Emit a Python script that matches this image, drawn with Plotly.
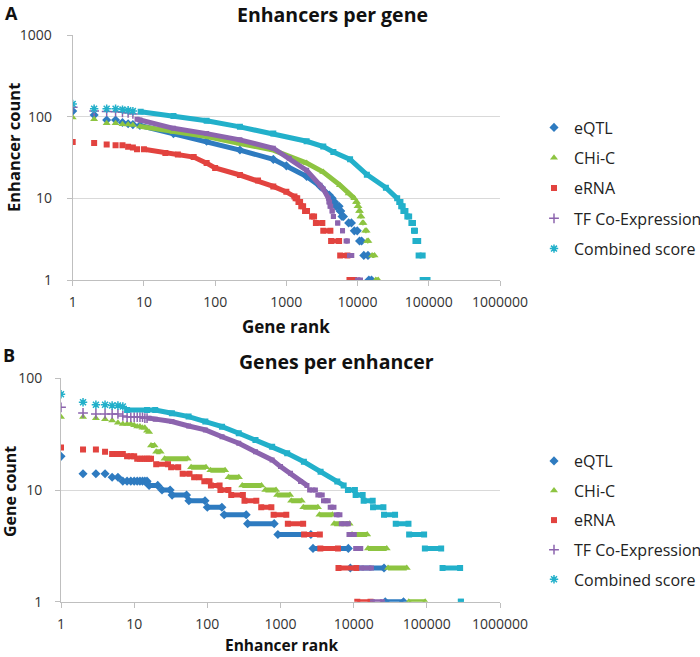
import plotly.graph_objects as go

FONT = "Open Sans"

# ---------------- Panel A : Enhancers per gene ----------------
A_series = ["eQTL", "CHi-C", "eRNA", "TF Co-Expression", "Combined score"]

# first individual ranks (drawn as separate markers)
A_eqtl_head_rank = [1, 2, 3, 4, 5, 6, 7]
A_eqtl_head_count = [117, 105, 91, 91, 85, 82, 80]
A_chic_head_rank = [1, 2, 3, 4, 5, 6, 7]
A_chic_head_count = [98, 93, 83, 83, 81, 80, 79]
A_erna_head_rank = [1, 2, 3, 4, 5, 6, 7, 8]
A_erna_head_count = [49, 47.6, 45.6, 44.8, 44.8, 42.9, 42, 40]
A_tf_head_rank = [1, 2, 3, 4, 5, 6, 7]
A_tf_head_count = [130, 117, 116, 115, 113, 111, 108]
A_comb_head_rank = [1, 2, 3, 4, 5, 6, 7]
A_comb_head_count = [143, 125, 125, 125, 122, 120, 117]

# dense part of each curve
A_eqtl_curve_rank = [8.8, 26, 76, 223, 656, 1000, 1927, 3000, 4000, 4400]
A_eqtl_curve_count = [78, 62, 50, 39, 30, 25, 18.5, 14, 11, 10]
A_chic_curve_rank = [8.8, 26, 76, 223, 656, 1927, 3300, 5660, 7500, 9000]
A_chic_curve_count = [76, 65, 57, 47, 39, 27, 21, 14.5, 11.5, 10]
A_erna_curve_rank = [10, 20, 30, 50, 76, 100, 223, 400, 656, 1000, 1300]
A_erna_curve_count = [40, 36, 34.5, 32, 27, 23.5, 19.3, 16.5, 14, 12, 10.5]
A_tf_curve_rank = [8, 8.8, 26, 76, 223, 656, 1100, 1927, 2970, 3300, 3900]
A_tf_curve_count = [93, 91, 72, 62, 52, 41, 31, 22, 14.5, 13, 10]
A_comb_curve_rank = [9, 26, 76, 223, 656, 1927, 3300, 4570, 7850, 13500, 25000, 36000]
A_comb_curve_count = [115, 102, 89, 75, 62, 50, 43, 37, 30, 19.5, 13.5, 10]

# integer tails: count, first rank, last rank
A_eqtl_step_count = [9, 8, 7, 6, 5, 4, 3, 2, 1]
A_eqtl_step_start = [4550, 4990, 5680, 6050, 7500, 9000, 10660, 12240, 14400]
A_eqtl_step_end = [4750, 5500, 5800, 6340, 8200, 9900, 11400, 14000, 15700]
A_chic_step_count = [9, 8, 7, 6, 5, 4, 3, 2, 1]
A_chic_step_start = [9500, 10000, 10500, 11000, 11700, 12800, 13600, 16000, 18000]
A_chic_step_end = [9800, 10300, 10800, 11300, 12100, 13400, 14200, 17300, 19500]
A_erna_step_count = [10, 9, 8, 7, 6, 5, 4, 3, 2, 1]
A_erna_step_start = [1350, 1480, 1620, 1830, 2300, 2600, 3300, 4250, 5700, 7700]
A_erna_step_end = [1420, 1560, 1720, 1950, 2450, 3200, 4150, 5500, 7200, 9000]
A_tf_step_count = [9, 8, 7, 6, 5, 4, 3, 2, 1]
A_tf_step_start = [3950, 4100, 4400, 4580, 5260, 6150, 6900, 7700, 10000]
A_tf_step_end = [4050, 4200, 4400, 4580, 5260, 6150, 7200, 8300, 11000]
A_comb_step_count = [9, 8, 7, 6, 5, 4, 3, 2, 1]
A_comb_step_start = [38500, 41000, 44000, 50000, 57000, 62000, 65000, 72000, 82000]
A_comb_step_end = [40000, 43000, 47000, 53000, 60000, 64000, 71000, 82000, 96000]

# ---------------- Panel B : Genes per enhancer ----------------
B_eqtl_head_rank = list(range(1, 16))
B_eqtl_head_count = [20, 14, 14, 14, 13, 13, 12, 12, 12, 12, 12, 12, 12, 12, 12]
B_chic_head_rank = list(range(1, 17))
B_chic_head_count = [45, 45, 44, 43, 42, 40, 39, 39, 39, 38, 37, 37, 36, 36, 34, 33]
B_erna_head_rank = list(range(1, 18))
B_erna_head_count = [24, 23, 23, 22, 21, 21, 21, 20, 20, 20, 19, 19, 19, 19, 19, 19, 19]
B_tf_head_rank = list(range(1, 16))
B_tf_head_count = [55, 49, 48, 48, 48, 48, 46, 45, 45, 45, 45, 45, 45, 44, 44]
B_comb_head_rank = [1, 2, 3, 4, 5, 6, 7]
B_comb_head_count = [72, 61, 58, 58, 57, 57, 56]

B_tf_curve_rank = [16, 19.4, 32.8, 55.5, 94, 159, 269, 455, 769, 1000, 1370, 1880, 2300]
B_tf_curve_count = [44, 43, 41, 37.4, 34.5, 30, 26.2, 22, 18.6, 16.2, 14.1, 11.9, 11]
B_comb_curve_rank = [8, 15, 19.4, 32.8, 55.5, 94, 159, 269, 455, 769, 1234, 2088, 3530, 5970, 7300]
B_comb_curve_count = [52, 52, 52, 48.6, 45.4, 41, 36.9, 32.2, 28, 24.4, 21.3, 17.9, 14.6, 11.9, 11]

B_eqtl_step_count = [11, 10, 9, 8, 7, 6, 5, 4, 3, 2, 1]
B_eqtl_step_start = [16, 24, 33, 56, 100, 170, 355, 920, 2780, 9000, 27000]
B_eqtl_step_end = [21, 31, 52, 93, 158, 340, 820, 2600, 8450, 26000, 48000]
B_chic_step_count = [25, 22, 19, 16, 15, 13, 11, 10, 9, 8, 7, 6, 5, 4, 3, 2, 1]
B_chic_step_start = [17, 20, 26, 60, 110, 195, 300, 620, 900, 1400, 2050, 3400, 5400, 9500, 15700, 29500, 56600]
B_chic_step_end = [19, 23, 54, 96, 175, 270, 550, 870, 1350, 1950, 3250, 5150, 8800, 15300, 28300, 53200, 94900]
B_erna_step_count = [17, 16, 14, 13, 12, 11, 10, 9, 8, 7, 6, 5, 4, 3, 2, 1]
B_erna_step_start = [20, 32, 46, 66, 91, 112, 151, 212, 322, 545, 805, 1260, 2100, 3500, 6200, 11200]
B_erna_step_end = [29, 40, 57, 78, 107, 147, 194, 306, 467, 750, 1200, 2040, 3450, 6100, 10900, 17000]
B_tf_step_count = [10, 9, 8, 7, 6, 5, 4, 3, 2, 1]
B_tf_step_start = [2500, 3240, 3870, 4780, 5780, 6780, 8630, 10650, 12800, 18050]
B_tf_step_end = [3000, 3720, 4490, 5380, 6490, 8450, 10200, 12500, 17500, 24700]
B_comb_step_count = [10, 9, 8, 7, 6, 5, 4, 3, 2, 1]
B_comb_step_start = [8350, 10640, 13700, 18400, 26000, 37600, 57300, 94000, 164000, 292000]
B_comb_step_end = [10400, 13270, 18200, 25500, 36800, 56100, 91800, 157000, 285000, 292000]

tick_x = [1, 10, 100, 1000, 10000, 100000, 1000000]
tick_x_text = ["1", "10", "100", "1000", "10000", "100000", "1000000"]
tick_yA = [1, 10, 100, 1000]
tick_yA_text = ["1", "10", "100", "1000"]
tick_yB = [1, 10, 100]
tick_yB_text = ["1", "10", "100"]

COLORS = ["#2E7BC0", "#8DC441", "#E2433F", "#8C64AE", "#22B0CA"]
HEAD_SYMBOL = ["diamond", "triangle-up", "square", "cross-thin", "asterisk"]
BODY_SYMBOL = ["diamond", "triangle-up", "square", "square", "square"]
HEAD_SIZE = [7, 7, 6, 7, 7]
BODY_SIZE = [7, 7, 6, 5, 6]
LINE_W = [5, 5, 5, 5, 5]


def body_xy(curve_r, curve_c, step_c, step_s, step_e):
    x = list(curve_r)
    y = list(curve_c)
    for c, s, e in zip(step_c, step_s, step_e):
        if x:
            x.append(None)
            y.append(None)
        x += [s, e]
        y += [c, c]
    return x, y


fig = go.Figure()

panels = {
    "A": dict(
        heads=[(A_eqtl_head_rank, A_eqtl_head_count), (A_chic_head_rank, A_chic_head_count),
               (A_erna_head_rank, A_erna_head_count), (A_tf_head_rank, A_tf_head_count),
               (A_comb_head_rank, A_comb_head_count)],
        bodies=[(A_eqtl_curve_rank, A_eqtl_curve_count, A_eqtl_step_count, A_eqtl_step_start, A_eqtl_step_end),
                (A_chic_curve_rank, A_chic_curve_count, A_chic_step_count, A_chic_step_start, A_chic_step_end),
                (A_erna_curve_rank, A_erna_curve_count, A_erna_step_count, A_erna_step_start, A_erna_step_end),
                (A_tf_curve_rank, A_tf_curve_count, A_tf_step_count, A_tf_step_start, A_tf_step_end),
                (A_comb_curve_rank, A_comb_curve_count, A_comb_step_count, A_comb_step_start, A_comb_step_end)],
        xaxis="x", yaxis="y", legend="legend"),
    "B": dict(
        heads=[(B_eqtl_head_rank, B_eqtl_head_count), (B_chic_head_rank, B_chic_head_count),
               (B_erna_head_rank, B_erna_head_count), (B_tf_head_rank, B_tf_head_count),
               (B_comb_head_rank, B_comb_head_count)],
        bodies=[([], [], B_eqtl_step_count, B_eqtl_step_start, B_eqtl_step_end),
                ([], [], B_chic_step_count, B_chic_step_start, B_chic_step_end),
                ([], [], B_erna_step_count, B_erna_step_start, B_erna_step_end),
                (B_tf_curve_rank, B_tf_curve_count, B_tf_step_count, B_tf_step_start, B_tf_step_end),
                (B_comb_curve_rank, B_comb_curve_count, B_comb_step_count, B_comb_step_start, B_comb_step_end)],
        xaxis="x2", yaxis="y2", legend="legend2"),
}

for key, p in panels.items():
    for i, name in enumerate(A_series):
        col = COLORS[i]
        hx, hy = p["heads"][i]
        hsym = HEAD_SYMBOL[i]
        mk = dict(symbol=hsym, size=HEAD_SIZE[i], color=col)
        if hsym in ("cross-thin", "asterisk"):
            mk = dict(symbol=hsym + "-open", size=HEAD_SIZE[i], color=col,
                      line=dict(color=col, width=1.5))
        fig.add_trace(go.Scatter(
            x=hx, y=hy, mode="markers", name=name, marker=mk,
            xaxis=p["xaxis"], yaxis=p["yaxis"], legend=p["legend"],
            legendgroup=key + name, showlegend=True, hoverinfo="skip"))
        bx, by = body_xy(*p["bodies"][i])
        fig.add_trace(go.Scatter(
            x=bx, y=by, mode="lines+markers", name=name,
            line=dict(color=col, width=LINE_W[i]),
            marker=dict(symbol=BODY_SYMBOL[i], size=BODY_SIZE[i], color=col),
            connectgaps=False,
            xaxis=p["xaxis"], yaxis=p["yaxis"], legend=p["legend"],
            legendgroup=key + name, showlegend=False, hoverinfo="skip"))

W, H = 700, 657


def px(x):
    return x / W


def py(y):
    return 1 - y / H


axis_common = dict(
    type="log", showline=True, linecolor="#BFBFBF", linewidth=1,
    ticks="outside", ticklen=5, tickcolor="#BFBFBF", tickwidth=1,
    tickfont=dict(family=FONT, size=14, color="#333333"),
    zeroline=False, tickmode="array", automargin=False,
)

fig.update_layout(
    width=W, height=H,
    margin=dict(l=0, r=0, t=0, b=0, pad=0, autoexpand=False),
    paper_bgcolor="white", plot_bgcolor="white",
    font=dict(family=FONT, color="#222222"),
    xaxis=dict(axis_common, domain=[px(72.7), px(500)], range=[0, 6],
               tickvals=tick_x, ticktext=tick_x_text, showgrid=False,
               anchor="y", ticklabelstandoff=4),
    yaxis=dict(axis_common, domain=[py(280), py(35)], range=[0, 3],
               tickvals=tick_yA, ticktext=tick_yA_text, showgrid=True,
               gridcolor="#D9D9D9", gridwidth=1, anchor="x", ticklabelstandoff=12),
    xaxis2=dict(axis_common, domain=[px(61), px(500)], range=[0, 6],
                tickvals=tick_x, ticktext=tick_x_text, showgrid=False,
                anchor="y2", ticklabelstandoff=4),
    yaxis2=dict(axis_common, domain=[py(601.7), py(378.3)], range=[0, 2],
                tickvals=tick_yB, ticktext=tick_yB_text, showgrid=True,
                gridcolor="#D9D9D9", gridwidth=1, anchor="x2", ticklabelstandoff=10),
    legend=dict(x=px(534), y=py(110.5), xanchor="left", yanchor="top",
                font=dict(family=FONT, size=16, color="#222222"),
                bgcolor="rgba(0,0,0,0)", tracegroupgap=6.5, itemsizing="trace"),
    legend2=dict(x=px(534), y=py(444), xanchor="left", yanchor="top",
                 font=dict(family=FONT, size=16, color="#222222"),
                 bgcolor="rgba(0,0,0,0)", tracegroupgap=5.8, itemsizing="trace"),
    showlegend=True,
)

ann = [
    dict(text="<b>A</b>", x=px(11), y=py(12.5), size=18),
    dict(text="<b>Enhancers per gene</b>", x=px(332), y=py(14), size=19.5),
    dict(text="<b>Gene rank</b>", x=px(286), y=py(327), size=17),
    dict(text="<b>B</b>", x=px(9), y=py(355), size=18),
    dict(text="<b>Genes per enhancer</b>", x=px(336), y=py(361), size=19.5),
    dict(text="<b>Enhancer rank</b>", x=px(281), y=py(645), size=15.5),
]
for a in ann:
    fig.add_annotation(text=a["text"], x=a["x"], y=a["y"], xref="paper", yref="paper",
                       xanchor="center", yanchor="middle", showarrow=False,
                       font=dict(family=FONT, size=a["size"], color="#111111"))
fig.add_annotation(text="<b>Enhancer count</b>", x=px(13), y=py(148), xref="paper", yref="paper",
                   xanchor="center", yanchor="middle", showarrow=False, textangle=-90,
                   font=dict(family=FONT, size=16.5, color="#111111"))
fig.add_annotation(text="<b>Gene count</b>", x=px(10), y=py(492), xref="paper", yref="paper",
                   xanchor="center", yanchor="middle", showarrow=False, textangle=-90,
                   font=dict(family=FONT, size=16, color="#111111"))

fig.write_html(
    "out.html",
    config={"displayModeBar": False},
    post_script="document.body.style.margin='0';document.body.style.overflow='hidden';",
)
